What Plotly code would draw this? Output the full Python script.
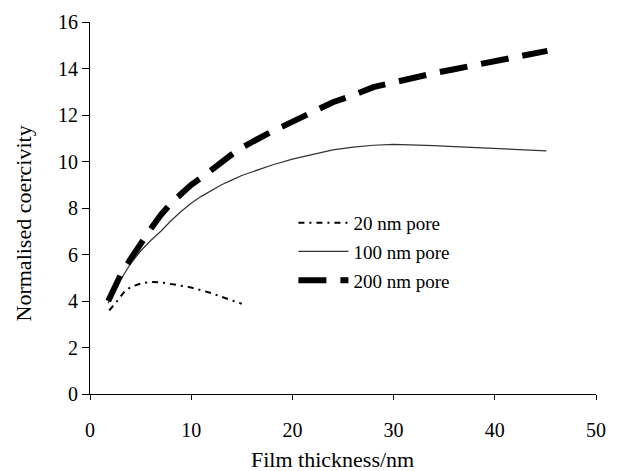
import plotly.graph_objects as go

# 20 nm pore
x20 = [1.9, 2.6, 3.4, 4, 5, 6, 7, 8, 9, 10, 11, 12, 13, 14, 15]
y20 = [3.6, 3.95, 4.4, 4.6, 4.75, 4.82, 4.8, 4.74, 4.66, 4.58, 4.47, 4.34, 4.18, 4.02, 3.88]

# 100 nm pore
x100 = [1.8, 2, 3, 4, 5, 6, 7, 8, 9, 10, 11, 12, 13, 14, 15, 16, 17, 18, 20, 22, 24, 26, 28, 30,
        32, 34, 36, 38, 40, 42, 44, 45.1]
y100 = [3.9, 4.1, 4.9, 5.6, 6.15, 6.6, 7.0, 7.45, 7.85, 8.2, 8.5, 8.75, 9.0, 9.2, 9.4, 9.55, 9.7,
        9.85, 10.1, 10.3, 10.5, 10.62, 10.7, 10.74, 10.72, 10.68, 10.64, 10.6, 10.56, 10.52, 10.48, 10.46]

# 200 nm pore
x200 = [1.8, 2.5, 3, 4, 5, 6, 7, 8, 9, 10, 11, 12, 13, 14, 15, 16, 17, 18, 19, 20, 22, 24, 26, 28,
        30, 32, 34, 36, 38, 40, 42, 44, 45.2]
y200 = [4.0, 4.6, 5.1, 5.8, 6.5, 7.1, 7.7, 8.2, 8.6, 9.0, 9.3, 9.65, 9.95, 10.3, 10.6, 10.85, 11.05,
        11.3, 11.5, 11.7, 12.15, 12.55, 12.85, 13.2, 13.4, 13.62, 13.8, 13.97, 14.15, 14.32, 14.52,
        14.68, 14.76]

x_ticks = [0, 10, 20, 30, 40, 50]
y_ticks = [0, 2, 4, 6, 8, 10, 12, 14, 16]

FONT = "Liberation Serif"

fig = go.Figure()
fig.add_trace(go.Scatter(x=x20, y=y20, mode="lines", name="20 nm pore", legendgroup="a",
                         line=dict(color="black", width=2, dash="6px,5px,2px,5px")))
fig.add_trace(go.Scatter(x=x100, y=y100, mode="lines", name="100 nm pore", legendgroup="b",
                         line=dict(color="#333333", width=1.2)))
fig.add_trace(go.Scatter(x=x200, y=y200, mode="lines", name="200 nm pore", legendgroup="c",
                         line=dict(color="black", width=6, dash="28px,14px")))

fig.update_layout(
    width=617, height=471,
    margin=dict(l=90, r=11, t=19, b=77),
    plot_bgcolor="white", paper_bgcolor="white",
    font=dict(family=FONT, size=19, color="black"),
    showlegend=True,
    legend=dict(x=0.402, y=0.382, xanchor="left", yanchor="middle",
                bgcolor="rgba(0,0,0,0)", font=dict(size=19, family=FONT),
                tracegroupgap=1, itemwidth=50),
    xaxis=dict(range=[0, 50], tickvals=x_ticks, showgrid=False, zeroline=False,
               showline=True, linecolor="black", linewidth=1,
               ticks="outside", ticklen=5, tickcolor="black", tickwidth=1,
               ticklabelstandoff=13, tickfont=dict(size=20, family=FONT)),
    yaxis=dict(range=[0, 16], tickvals=y_ticks, showgrid=False, zeroline=False,
               showline=True, linecolor="black", linewidth=1,
               ticks="outside", ticklen=7, tickcolor="black", tickwidth=1,
               tickfont=dict(size=20, family=FONT)),
    annotations=[
        dict(text="Film thickness/nm", xref="paper", yref="paper", x=0.48, y=-0.175,
             showarrow=False, xanchor="center", yanchor="middle", font=dict(size=22, family=FONT)),
        dict(text="Normalised coercivity", xref="paper", yref="paper", x=-0.132, y=0.459,
             showarrow=False, xanchor="center", yanchor="middle", textangle=-90,
             font=dict(size=22, family=FONT)),
    ],
)

fig.write_html("out.html")
